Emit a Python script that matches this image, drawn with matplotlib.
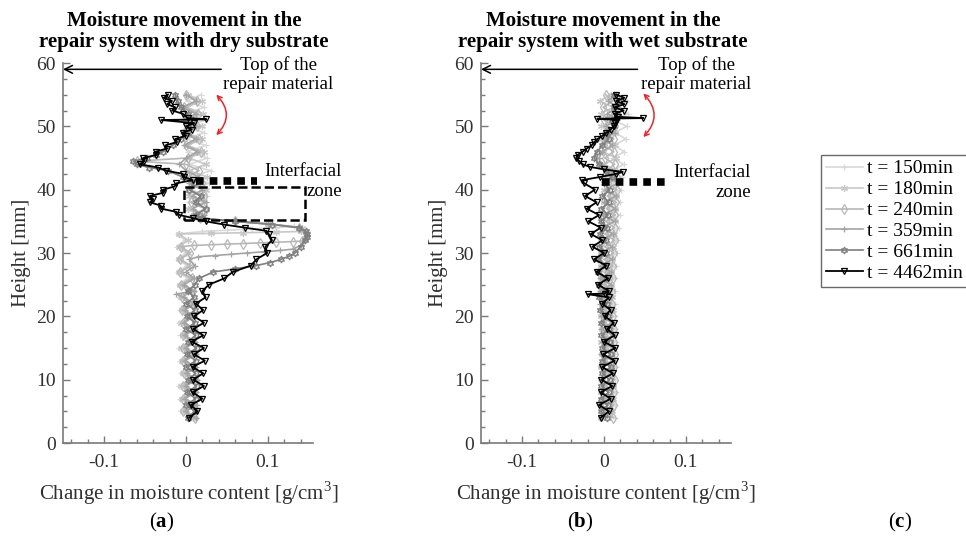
import matplotlib
matplotlib.use('Agg')
import matplotlib.pyplot as plt
from matplotlib.patches import Rectangle
from matplotlib.ticker import AutoMinorLocator

plt.rcParams['font.family'] = ['Liberation Serif', 'DejaVu Serif']
plt.rcParams['mathtext.fontset'] = 'custom'
plt.rcParams['mathtext.rm'] = 'Liberation Serif'
plt.rcParams['mathtext.bf'] = 'Liberation Serif:bold'
plt.rcParams['axes.unicode_minus'] = False

# ---- data: (height [mm], change in moisture [g/cm3]) ----
labels = ['t = 150min', 't = 180min', 't = 240min', 't = 359min', 't = 661min', 't = 4462min']
colors = ['#d9d9d9', '#c8c8c8', '#b8b8b8', '#a4a4a4', '#7f7f7f', '#000000']
markers = ['+', (6, 2, 0), 'd', '+', (6, 1, 0), 'v']

base_h = [4, 5, 6, 7, 8, 9, 10, 11, 12, 13, 14, 15, 16, 17, 18, 19, 20, 21, 22, 23, 24]

# dry substrate
dry_h150 = base_h + [25, 26, 27, 28, 29, 30, 31, 32, 33, 33.4, 33.6, 33.8, 34.0, 34.2, 34.6, 35.0, 35.5,
                     36, 37, 38, 39, 40, 41, 42, 43, 44, 45, 46, 47, 48, 49, 50, 51, 52, 53, 54, 55]
dry_v150 = [0.006, -0.006, 0.007, -0.007, 0.005, -0.008, 0.006, -0.006, 0.007, -0.007, 0.004, -0.008,
            0.006, -0.007, 0.005, -0.008, 0.004, -0.007, 0.006, -0.008, 0.003,
            -0.009, 0.002, -0.010, 0.001, -0.010, 0.000, -0.011, -0.001, -0.010, 0.020, 0.050, 0.080,
            0.110, 0.132, 0.100, 0.060, 0.016,
            0.006, 0.024, 0.004, 0.026, 0.006, 0.028, 0.008, 0.030, 0.004, 0.026, 0.002, 0.024, 0.000,
            0.022, 0.002, 0.024, 0.000, 0.022, 0.002, 0.018]

dry_h180 = base_h + [25, 26, 27, 28, 29, 30, 31, 32, 33, 33.1, 33.2, 33.3, 33.4, 34.0, 34.6, 35.0, 35.5,
                     36, 37, 38, 39, 40, 41, 42, 43, 44, 45, 46, 47, 48, 49, 50, 51, 52, 53, 54, 55]
dry_v180 = [0.009, -0.004, 0.010, -0.005, 0.009, -0.006, 0.008, -0.004, 0.010, -0.005, 0.008, -0.006,
            0.009, -0.004, 0.008, -0.006, 0.007, -0.005, 0.008, -0.006, 0.006,
            -0.007, 0.005, -0.008, 0.004, -0.008, 0.003, -0.009, 0.002, -0.008, 0.030, 0.070, 0.110,
            0.140, 0.142, 0.100, 0.060, 0.016,
            0.020, 0.002, 0.022, 0.004, 0.024, 0.006, 0.026, 0.004, 0.024, 0.004, 0.022, 0.002, 0.020,
            0.000, 0.020, 0.002, 0.021, 0.001, 0.019, 0.003]

dry_h240 = base_h + [25, 26, 27, 28, 29, 30, 31, 31.2, 31.3, 31.4, 31.5, 31.6, 31.7, 31.8, 31.9, 32.5, 33.2,
                     34.0, 34.6, 35.0, 35.5, 36, 37, 38, 39, 40, 41, 42, 43, 44, 44.5, 45, 46, 47, 48, 49,
                     50, 51, 52, 53, 54, 55]
dry_v240 = [0.011, -0.003, 0.010, -0.004, 0.011, -0.003, 0.012, -0.002, 0.010, -0.004, 0.011, -0.003,
            0.010, -0.004, 0.010, -0.004, 0.009, -0.005, 0.009, -0.005, 0.008,
            -0.006, 0.007, -0.007, 0.006, -0.007, 0.005, -0.006, 0.010, 0.030, 0.050, 0.070, 0.090, 0.110,
            0.130, 0.142, 0.146, 0.146,
            0.138, 0.100, 0.060, 0.017, 0.010, 0.024, 0.006, 0.022, 0.004, 0.020, 0.002, 0.016, 0.000,
            -0.060, 0.002, 0.018, 0.000, 0.016, -0.002, 0.014, -0.001, 0.015, -0.002, 0.014, 0.000]

dry_h359 = base_h[:20] + [23.5, 24, 25, 26, 27, 28, 29, 29.4, 29.6, 29.8, 30.0, 30.2, 30.4, 30.6, 31.2, 32,
                          33, 34, 34.6, 35.0, 35.5, 36, 37, 38, 39, 40, 41, 42, 43, 44, 45, 46, 47, 48, 49,
                          50, 51, 52, 53, 54, 55]
dry_v359 = [0.012, 0.000, 0.013, -0.001, 0.012, 0.000, 0.013, 0.001, 0.012, -0.001, 0.012, 0.000, 0.011,
            -0.001, 0.011, -0.002, 0.010, -0.001, 0.010, -0.002,
            -0.012, 0.010, -0.002, 0.010, 0.000, 0.011, 0.004, 0.015, 0.035, 0.055, 0.075, 0.095, 0.115,
            0.130, 0.140, 0.145, 0.147, 0.138, 0.100, 0.060, 0.018,
            0.022, 0.008, 0.024, 0.008, 0.020, 0.004, 0.016, 0.000, -0.008, 0.000, 0.014, -0.002, 0.012,
            -0.004, 0.012, -0.002, 0.012, -0.004, 0.012, 0.000]

dry_h661 = base_h + [25, 26, 27, 27.5, 28, 28.5, 29, 29.5, 30, 31, 32, 32.5, 33, 33.5, 34, 34.5, 35, 35.5,
                     36, 37, 38, 39, 40, 41, 42, 43, 43.5, 44, 44.5, 45, 45.5, 46, 47, 48, 49, 50, 51, 52,
                     53, 54, 55]
dry_v661 = [0.002, 0.011, 0.000, 0.012, 0.001, 0.013, 0.002, 0.012, 0.000, 0.012, 0.001, 0.013, 0.002,
            0.012, 0.000, 0.011, 0.001, 0.011, 0.000, 0.010, 0.002,
            0.011, 0.016, 0.033, 0.060, 0.085, 0.103, 0.116, 0.126, 0.133, 0.140, 0.145, 0.148, 0.148, 0.146,
            0.138, 0.105, 0.060, 0.020,
            0.012, 0.024, 0.012, 0.018, 0.004, 0.010, -0.004, -0.022, -0.045, -0.060, -0.064, -0.048, -0.036,
            -0.028, -0.016, -0.006, 0.002, 0.006, 0.008, 0.002, -0.006, -0.010, -0.013]

dry_h4462 = base_h + [25, 26, 27, 28, 29, 30, 31, 32, 33, 33.5, 34, 34.5, 35, 35.5, 36, 36.5, 37, 37.5,
                      38, 38.5, 39, 39.5, 40, 40.5, 41, 41.5, 42, 42.5, 43, 43.5, 44, 44.5, 45, 45.5, 46,
                      46.5, 47, 47.5, 48, 48.5, 49, 49.5, 50, 50.5, 51, 51.1, 51.3, 52, 52.5, 53, 53.5, 54,
                      54.5, 55]
dry_v4462 = [0.004, 0.014, 0.006, 0.020, 0.008, 0.022, 0.009, 0.021, 0.008, 0.023, 0.010, 0.022, 0.007,
             0.021, 0.009, 0.022, 0.010, 0.021, 0.012, 0.024, 0.020,
             0.028, 0.047, 0.057, 0.079, 0.086, 0.099, 0.097, 0.105, 0.101, 0.098, 0.072, 0.046, 0.024,
             0.009, -0.008, -0.012, -0.030, -0.031, -0.044, -0.040, -0.044, -0.028, -0.028, -0.014, -0.012,
             0.008, -0.002, -0.004, -0.024, -0.034, -0.056, -0.051, -0.052, -0.036, -0.037, -0.023, -0.025,
             -0.011, -0.013, 0.000, -0.004, 0.007, 0.000, 0.010, -0.030, 0.025, 0.002, -0.004, -0.017,
             -0.013, -0.023, -0.017, -0.027, -0.022]

# wet substrate
wet_h = base_h + [25, 26, 27, 28, 29, 30, 31, 32, 33, 34, 35, 36, 37, 38, 39, 40, 41, 42, 43, 44, 45,
                  46, 47, 48, 49, 50, 51, 52, 53, 54, 55]
wet_v150 = [0.013, 0.001, 0.014, 0.002, 0.015, 0.001, 0.014, 0.003, 0.015, 0.002, 0.014, 0.001, 0.015,
            0.002, 0.014, 0.001, 0.013, 0.002, 0.014, 0.001, 0.013, 0.002, 0.014, 0.003, 0.015, 0.003,
            0.016, 0.004, 0.017, 0.005, 0.018, 0.006, 0.019, 0.007, 0.020, 0.008, 0.021, 0.009, 0.022,
            0.010, 0.024, 0.011, 0.025, 0.012, 0.027, 0.013, 0.028, 0.012, 0.029, 0.013, 0.028, 0.014]
wet_v180 = [-0.003, 0.010, -0.004, 0.011, -0.003, 0.011, -0.002, 0.010, -0.003, 0.011, -0.002, 0.010,
            -0.003, 0.011, -0.002, 0.010, -0.003, 0.011, -0.002, 0.010, -0.003, 0.009, -0.004, 0.009,
            -0.003, 0.010, -0.003, 0.011, -0.002, 0.012, -0.002, 0.013, -0.001, 0.014, 0.000, 0.015,
            0.000, 0.016, 0.001, 0.016, 0.000, 0.015, -0.001, 0.014, -0.002, 0.013, -0.003, 0.012,
            -0.004, 0.011, -0.005, 0.008]
wet_v240 = [0.011, 0.000, 0.012, 0.001, 0.012, 0.000, 0.013, 0.001, 0.012, 0.000, 0.013, 0.001, 0.012,
            0.000, 0.012, -0.001, 0.011, -0.001, 0.010, -0.002, 0.010, -0.001, 0.011, 0.000, 0.011,
            0.000, 0.012, 0.001, 0.013, 0.001, 0.013, 0.002, 0.014, 0.003, 0.015, 0.004, 0.016, 0.005,
            0.016, 0.003, 0.013, 0.001, 0.012, 0.000, 0.012, 0.001, 0.013, 0.000, 0.012, -0.001, 0.011,
            0.002]
wet_v359 = [-0.004, 0.009, -0.005, 0.010, -0.004, 0.011, -0.003, 0.010, -0.004, 0.011, -0.003, 0.012,
            -0.002, 0.011, -0.003, 0.010, -0.004, 0.009, -0.005, 0.008, -0.005, 0.009, -0.005, 0.009,
            -0.004, 0.010, -0.004, 0.010, -0.003, 0.011, -0.002, 0.013, -0.001, 0.014, 0.000, 0.015,
            0.002, 0.017, 0.008, 0.010, -0.004, -0.006, -0.002, 0.010, 0.000, 0.013, 0.002, 0.016,
            0.004, 0.017, 0.005, 0.014]
wet_v661 = [0.004, -0.004, 0.005, -0.004, 0.006, -0.003, 0.007, -0.002, 0.008, -0.002, 0.008, -0.002,
            0.007, -0.003, 0.006, -0.004, 0.005, -0.005, 0.004, -0.006, 0.003, -0.006, 0.002, -0.007,
            0.002, -0.007, 0.002, -0.006, 0.003, -0.005, 0.004, -0.004, 0.005, -0.003, 0.006, -0.002,
            0.007, 0.000, 0.010, 0.002, -0.006, -0.012, -0.008, -0.002, 0.006, 0.004, 0.012, 0.010,
            0.016, 0.012, 0.018, 0.012]

wet_h4462 = base_h[:20] + [23.5, 23.6, 24, 25, 26, 27, 28, 29, 30, 31, 32, 33, 34, 35, 36, 37, 38, 39, 40,
                           41, 41.5, 42, 42.5, 42.8, 43.2, 43.6, 44, 44.5, 45, 45.5, 46, 46.5, 47, 47.5,
                           48, 48.5, 49, 49.5, 50, 50.5, 51, 51.2, 51.3, 51.5, 52, 52.5, 53, 53.5, 54,
                           54.5, 55]
wet_v4462 = [-0.004, 0.006, -0.006, 0.008, -0.004, 0.010, -0.003, 0.011, -0.002, 0.013, -0.001, 0.014,
             0.000, 0.013, 0.004, 0.012, 0.001, 0.008, -0.002, 0.006,
             -0.020, 0.001, 0.006, -0.007, 0.005, -0.009, 0.003, -0.012, 0.000, -0.014, -0.002, -0.016,
             -0.004, -0.019, -0.006, -0.021, -0.009, -0.023, -0.011, -0.024, -0.027, -0.005, 0.015, 0.023,
             0.000, -0.017, -0.026, -0.030, -0.034, -0.032, -0.026, -0.021, -0.015, -0.012, -0.008, -0.002,
             0.003, 0.008, 0.012, 0.014, 0.016, -0.008, 0.048, 0.017, 0.013, 0.024, 0.013, 0.025, 0.015,
             0.025, 0.015]

dry_curves = [(dry_h150, dry_v150), (dry_h180, dry_v180), (dry_h240, dry_v240),
              (dry_h359, dry_v359), (dry_h661, dry_v661), (dry_h4462, dry_v4462)]
wet_curves = [(wet_h, wet_v150), (wet_h, wet_v180), (wet_h, wet_v240),
              (wet_h, wet_v359), (wet_h, wet_v661), (wet_h4462, wet_v4462)]

W, H = 966, 545
fig = plt.figure(figsize=(W / 100, H / 100), dpi=100)

axis_gray = '#7a7a7a'
text_gray = '#303030'


def setup(ax):
    ax.set_xlim(-0.15, 0.155)
    ax.set_ylim(0, 60)
    ax.set_xticks([-0.1, 0, 0.1])
    ax.set_xticklabels(['-0.1', '0', '0.1'])
    ax.set_yticks([0, 10, 20, 30, 40, 50, 60])
    ax.xaxis.set_minor_locator(AutoMinorLocator(5))
    ax.yaxis.set_minor_locator(AutoMinorLocator(4))
    ax.tick_params(which='both', direction='in', color=axis_gray, labelcolor=text_gray,
                   labelsize=14, width=1)
    ax.tick_params(which='major', length=5)
    ax.tick_params(which='minor', length=3)
    ax.tick_params(axis='x', pad=8)
    ax.tick_params(axis='y', pad=5)
    for s in ['top', 'right']:
        ax.spines[s].set_visible(False)
    for s in ['left', 'bottom']:
        ax.spines[s].set_color(axis_gray)
        ax.spines[s].set_linewidth(1.2)
    ax.patch.set_alpha(0)


def draw(ax, curves):
    handles = []
    for (hh, vv), c, m, lab in zip(curves, colors, markers, labels):
        lw = 1.3 if c == '#000000' else 1.2
        ln, = ax.plot(vv, hh, color=c, lw=lw, marker=m, markersize=5,
                      markerfacecolor='none', markeredgecolor=c, markeredgewidth=0.9, label=lab)
        handles.append(ln)
    return handles


axw = 250 / W
axh = 380 / H
axb = 1 - 443 / H
ax1 = fig.add_axes([63 / W, axb, axw, axh])
ax2 = fig.add_axes([481 / W, axb, axw, axh])

handles = draw(ax1, dry_curves)
draw(ax2, wet_curves)
setup(ax1)
setup(ax2)

red = '#e8262b'
fs_note = 13.5

# annotations, dry panel
ax1.annotate('', xy=(-0.15, 59), xytext=(0.043, 59), annotation_clip=False,
             arrowprops=dict(arrowstyle='->', color='k', lw=1.1, mutation_scale=14, shrinkA=0, shrinkB=0))
ax1.text(0.113, 58.2, 'Top of the\nrepair material', ha='center', va='center', fontsize=fs_note,
         clip_on=False, linespacing=1.15)
ax1.annotate('', xy=(0.037, 48.6), xytext=(0.037, 55.0), annotation_clip=False,
             arrowprops=dict(arrowstyle='<->', color=red, lw=1.1, mutation_scale=8,
                             connectionstyle='arc3,rad=-0.47', shrinkA=0, shrinkB=0))
ax1.plot([0.012, 0.087], [41.3, 41.3], color='k', lw=5.5, ls=(0, (1, 0.8)),
         dash_capstyle='butt', zorder=6, clip_on=False)
ax1.add_patch(Rectangle((-0.0025, 35.2), 0.1475, 5.15, fill=False, ls='--', lw=1.8,
                        edgecolor='k', zorder=6, clip_on=False))
ax1.text(0.190, 41.3, 'Interfacial\nzone', ha='right', va='center', multialignment='right',
         fontsize=fs_note, clip_on=False, linespacing=1.2)

# annotations, wet panel
ax2.annotate('', xy=(-0.15, 59), xytext=(0.041, 59), annotation_clip=False,
             arrowprops=dict(arrowstyle='->', color='k', lw=1.1, mutation_scale=14, shrinkA=0, shrinkB=0))
ax2.text(0.113, 58.2, 'Top of the\nrepair material', ha='center', va='center', fontsize=fs_note,
         clip_on=False, linespacing=1.15)
ax2.annotate('', xy=(0.048, 48.3), xytext=(0.048, 55.2), annotation_clip=False,
             arrowprops=dict(arrowstyle='<->', color=red, lw=1.1, mutation_scale=8,
                             connectionstyle='arc3,rad=-0.47', shrinkA=0, shrinkB=0))
ax2.plot([-0.002, 0.077], [41.2, 41.2], color='k', lw=5.5, ls=(0, (1, 0.8)),
         dash_capstyle='butt', zorder=6, clip_on=False)
ax2.text(0.179, 41.1, 'Interfacial\nzone', ha='right', va='center', multialignment='right',
         fontsize=fs_note, clip_on=False, linespacing=1.2)

# titles and labels
fig.text(184 / W, 1 - 31.5 / H, 'Moisture movement in the\nrepair system with dry substrate',
         ha='center', va='center', fontsize=15, fontweight='bold', linespacing=1.1)
fig.text(603 / W, 1 - 31.5 / H, 'Moisture movement in the\nrepair system with wet substrate',
         ha='center', va='center', fontsize=15, fontweight='bold', linespacing=1.1)
for xc in [189, 606]:
    fig.text(xc / W, 1 - 493 / H, 'Change in moisture content [g/cm$^{3}$]', ha='center', va='center',
             fontsize=15, color=text_gray)
for xc in [22, 439]:
    fig.text(xc / W, 1 - 253 / H, 'Height [mm]', ha='center', va='center', rotation=90,
             fontsize=15, color=text_gray)
for xc, s in [(162, 'a'), (580, 'b'), (900, 'c')]:
    fig.text(xc / W, 1 - 522 / H, '($\\mathbf{%s}$)' % s, ha='center', va='center', fontsize=15)

leg = fig.legend(handles, labels, loc='upper left', bbox_to_anchor=(821 / W, 1 - 155 / H),
                 fontsize=14, frameon=True, fancybox=False, edgecolor='#6a6a6a', framealpha=1,
                 handlelength=1.9, handletextpad=0.2, borderpad=0.25, labelspacing=0.17,
                 borderaxespad=0)
leg.get_frame().set_linewidth(1.0)

fig.savefig('out.png', dpi=100)
